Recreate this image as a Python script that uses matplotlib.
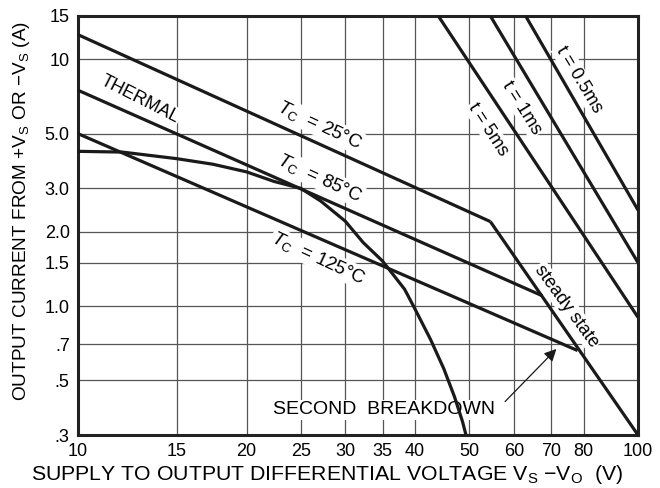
import matplotlib
matplotlib.use("Agg")
import matplotlib.pyplot as plt
from matplotlib.ticker import FixedLocator, FixedFormatter, NullLocator

plt.rcParams['font.family'] = ['Liberation Sans', 'DejaVu Sans']
plt.rcParams['mathtext.fontset'] = 'custom'
plt.rcParams['mathtext.rm'] = 'Liberation Sans'
plt.rcParams['mathtext.it'] = 'Liberation Sans:italic'
plt.rcParams['mathtext.bf'] = 'Liberation Sans:bold'

# ---- data ----
x_ticks = [10, 15, 20, 25, 30, 35, 40, 50, 60, 70, 80, 100]
x_tick_labels = ['10', '15', '20', '25', '30', '35', '40', '50', '60', '70', '80', '100']
y_ticks = [0.3, 0.5, 0.7, 1.0, 1.5, 2.0, 3.0, 5.0, 10, 15]
y_tick_labels = ['.3', '.5', '.7', '1.0', '1.5', '2.0', '3.0', '5.0', '10', '15']

# thermal limits (Tc = 25, 85, 125 C) ending on the steady-state line
tc25_x = [10, 54.5]
tc25_y = [12.6, 2.2]
tc85_x = [10, 67.5]
tc85_y = [7.5, 1.1]
tc125_x = [10, 78]
tc125_y = [5.0, 0.66]

# steady state second-breakdown boundary
ss_x = [54.5, 100]
ss_y = [2.2, 0.3]

# pulse lines
t5_x = [44, 100]
t5_y = [15, 0.9]
t1_x = [54.5, 100]
t1_y = [15, 1.5]
t05_x = [63, 100]
t05_y = [15, 2.45]

# second breakdown curve
sb_x = [10, 12, 15, 17.4, 20, 22.4, 25, 27.1, 30, 32.3, 35, 38.3, 40, 42.6, 45, 47, 48.6, 49.3]
sb_y = [4.24, 4.21, 3.96, 3.76, 3.5, 3.2, 3.0, 2.67, 2.21, 1.81, 1.52, 1.17, 0.97, 0.733, 0.557, 0.43, 0.34, 0.3]

# ---- figure ----
fig = plt.figure(figsize=(6.6, 4.88), dpi=100)
ax = fig.add_axes([78/660, 1-435/488, (638-78)/660, (435-16)/488])
ax.set_xscale('log')
ax.set_yscale('log')
ax.set_xlim(10, 100)
ax.set_ylim(0.3, 15)

ax.xaxis.set_major_locator(FixedLocator(x_ticks))
ax.xaxis.set_major_formatter(FixedFormatter(x_tick_labels))
ax.xaxis.set_minor_locator(NullLocator())
ax.yaxis.set_major_locator(FixedLocator(y_ticks))
ax.yaxis.set_major_formatter(FixedFormatter(y_tick_labels))
ax.yaxis.set_minor_locator(NullLocator())
ax.tick_params(length=0, labelsize=13, pad=6)
ax.grid(True, color='#555555', lw=0.9)
ax.set_axisbelow(True)
for s in ax.spines.values():
    s.set_linewidth(2.2)
    s.set_color('#222222')

lw = 2.3
col = '#1a1a1a'
for xs, ys in [(tc25_x, tc25_y), (tc85_x, tc85_y), (tc125_x, tc125_y), (ss_x, ss_y),
               (t5_x, t5_y), (t1_x, t1_y), (t05_x, t05_y), (sb_x, sb_y)]:
    ax.plot(xs, ys, color=col, lw=lw, zorder=3, solid_capstyle='butt', solid_joinstyle='round', clip_on=True)

bb = dict(facecolor='white', edgecolor='none', pad=1.0)
fs = 13.5
ax.text(12.9, 6.9, 'THERMAL', rotation=-27, ha='center', va='center', fontsize=13, bbox=bb, zorder=2)
ax.text(27.0, 5.4, r'$T_{\rm C}$  = 25°C', rotation=-25, ha='center', va='center', fontsize=fs, bbox=bb, zorder=2)
ax.text(27.0, 3.3, r'$T_{\rm C}$  = 85°C', rotation=-25, ha='center', va='center', fontsize=fs, bbox=bb, zorder=2)
ax.text(26.9, 1.56, r'$T_{\rm C}$  = 125°C', rotation=-25, ha='center', va='center', fontsize=fs, bbox=bb, zorder=2)
ax.text(54.0, 5.2, 't = 5ms', rotation=-57, ha='center', va='center', fontsize=13, bbox=bb, zorder=2)
ax.text(62.0, 6.35, 't = 1ms', rotation=-58, ha='center', va='center', fontsize=13, bbox=bb, zorder=2)
ax.text(78.5, 8.3, 't = 0.5ms', rotation=-59, ha='center', va='center', fontsize=13, bbox=bb, zorder=2)
ax.text(74.5, 1.0, 'steady state', rotation=-54, ha='center', va='center', fontsize=13, bbox=bb, zorder=2)
ax.text(55.5, 0.38, 'SECOND  BREAKDOWN', ha='right', va='center', fontsize=14, bbox=bb, zorder=2)
ax.annotate('', xy=(71.5, 0.67), xytext=(57.9, 0.41),
            arrowprops=dict(arrowstyle='-|>', lw=0.9, color='#1a1a1a', mutation_scale=18,
                            shrinkA=0, shrinkB=0), zorder=4)

ax.set_xlabel(r'SUPPLY TO OUTPUT DIFFERENTIAL VOLTAGE V$_{\rm S}$ $-$V$_{\rm O}$  (V)', fontsize=15.3)
ax.xaxis.set_label_coords(0.445, -0.068, transform=ax.transAxes)
ax.set_ylabel(r'OUTPUT CURRENT FROM +V$_{\rm S}$ OR $-$V$_{\rm S}$ (A)', fontsize=13.7)
ax.yaxis.set_label_coords(-0.083, 0.535, transform=ax.transAxes)

fig.savefig('out.png', dpi=100)
